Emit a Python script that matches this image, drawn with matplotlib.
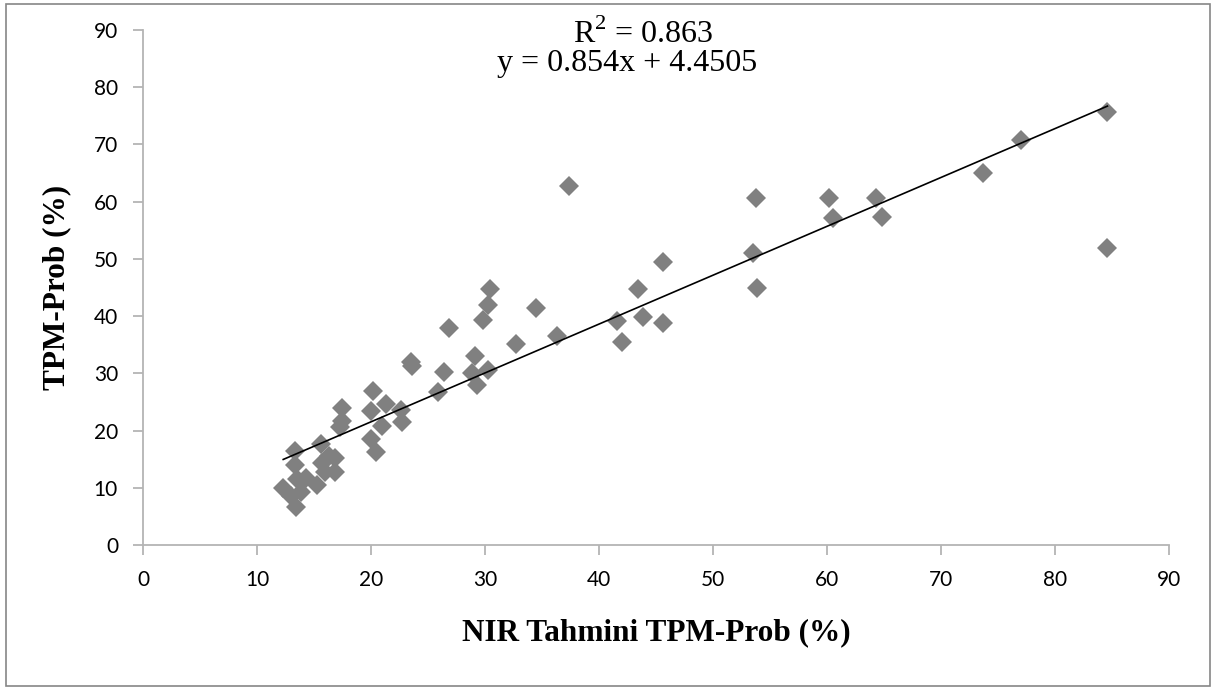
import matplotlib
matplotlib.use("Agg")
import matplotlib.pyplot as plt
from matplotlib.patches import Rectangle
import numpy as np

nir_pred = [84.6, 84.6, 77.0, 73.7, 64.3, 64.8, 60.2, 60.5, 53.8, 53.5,
            53.9, 45.6, 45.6, 43.4, 43.9, 41.6, 42.0, 37.4, 36.3, 34.5,
            32.7, 30.4, 30.3, 29.8, 29.1, 30.3, 28.9, 29.3, 26.8, 26.4,
            25.9, 23.5, 23.6, 22.6, 22.7, 21.3, 20.2, 20.0, 21.0, 20.0,
            20.4, 17.5, 17.5, 17.3, 15.6, 16.3, 16.8, 15.7, 16.0, 16.8,
            15.3, 13.3, 13.3, 13.5, 12.3, 13.0, 13.4, 13.9, 14.3]
tpm_prob = [75.7, 51.9, 70.8, 65.0, 60.7, 57.4, 60.6, 57.2, 60.6, 51.0,
            45.0, 49.5, 38.8, 44.7, 39.8, 39.2, 35.5, 62.8, 36.6, 41.5,
            35.2, 44.8, 42.0, 39.4, 33.0, 30.6, 30.0, 27.9, 38.0, 30.3,
            26.8, 32.0, 31.2, 23.6, 21.5, 24.6, 27.0, 23.5, 20.8, 18.6,
            16.2, 24.0, 21.7, 20.7, 17.7, 15.6, 15.2, 14.3, 12.8, 12.8,
            10.5, 16.5, 14.0, 11.5, 10.0, 8.5, 6.6, 9.2, 11.8]

slope = 0.854
intercept = 4.4505
r2 = 0.863
ticks = list(range(0, 100, 10))

plt.rcParams["mathtext.fontset"] = "custom"
plt.rcParams["mathtext.rm"] = "Liberation Serif"

fig = plt.figure(figsize=(12.16, 6.9), dpi=100)
ax = fig.add_axes([0.1176, 0.2101, 0.8437, 0.7464])

ax.plot(nir_pred, tpm_prob, linestyle="none", marker="D", markersize=10,
        color="#808080", markeredgewidth=0, zorder=2)

# linear trend line over the data range
xs = np.array([min(nir_pred), max(nir_pred)])
ax.plot(xs, slope * xs + intercept, color="black", linewidth=1.2, zorder=3)

ax.set_xlim(0, 90)
ax.set_ylim(0, 90)
ax.set_xticks(ticks)
ax.set_yticks(ticks)
for side in ["top", "right"]:
    ax.spines[side].set_visible(False)
for side in ["left", "bottom"]:
    ax.spines[side].set_color("#b4b4b4")
    ax.spines[side].set_linewidth(1.3)
ax.tick_params(direction="out", length=7, width=1.3, color="#b4b4b4",
               labelsize=15, pad=11)
for lab in ax.get_xticklabels() + ax.get_yticklabels():
    lab.set_family("Lato")

ax.set_xlabel("NIR Tahmini TPM-Prob (%)", family="Liberation Serif",
              fontweight="bold", fontsize=22.5, labelpad=20)
ax.set_ylabel("TPM-Prob (%)", family="Liberation Serif",
              fontweight="bold", fontsize=22.5, labelpad=16)

ax.text(0.488, 0.992, r"R$^{\mathrm{2}}$ = %.3f" % r2, transform=ax.transAxes,
        ha="center", va="center", family="Liberation Serif", fontsize=23)
ax.text(0.472, 0.935, "y = %.3fx + %.4f" % (slope, intercept),
        transform=ax.transAxes, ha="center", va="center",
        family="Liberation Serif", fontsize=23)

fig.patches.append(Rectangle((0.005, 0.006), 0.99, 0.988, transform=fig.transFigure,
                             fill=False, edgecolor="#868686", linewidth=1.2))

fig.savefig("out.png", dpi=100)
